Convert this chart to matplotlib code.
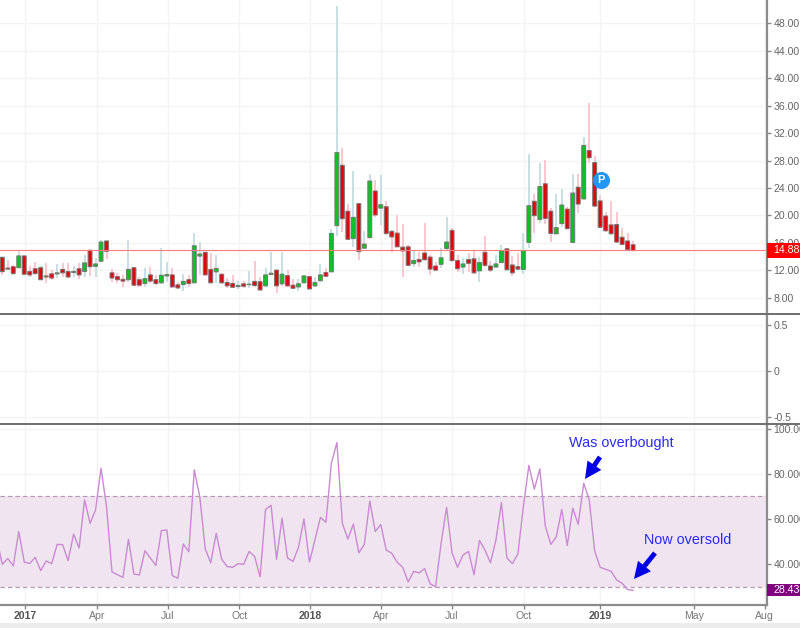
import matplotlib
matplotlib.use('Agg')
import matplotlib.pyplot as plt
import numpy as np
from matplotlib.patches import Rectangle

plt.rcParams['font.family'] = ['Liberation Sans', 'DejaVu Sans']

#Weekly candles
opens = [13.87,12.3,12.5,12.35,14.07,11.8,12.2,12.35,11.15,11.45,
         11.45,12.1,11.8,11.65,12.2,11.8,14.9,12.55,13.3,16.25,
         11.6,11.05,10.65,10.6,12.35,10.6,10.05,11.3,10.6,10.15,
         11.15,11.3,9.85,9.9,10.6,10.15,14.05,14.6,12.1,11.75,
         11.4,10.2,10.05,9.6,10,9.88,10.35,10.3,9.7,11.35,
         12,10,11.2,9.8,9.55,10.15,11.05,9.7,10.45,11.65,
         11.75,18.5,27.3,20.6,16.6,21.7,15.2,16.75,23.55,21.05,
         21.25,17.65,17.4,15.35,15.4,12.95,13.55,14.5,13.9,12.6,
         12.85,15.15,17.8,13.4,12.45,13.55,13.65,11.9,14.6,12.6,
         12.45,13.1,15.1,12.75,12.5,12.1,16.05,22.05,19.4,24.6,
         20.6,17.3,18.8,20.9,16.05,24.1,22.4,29.45,27.7,22.1,
         19.9,18.6,18.65,16.8,16.25,15.7]
closes = [11.78,12.15,11.5,14.07,11.4,11.3,11.5,10.6,11,10.85,
          11.6,11.6,11,11.8,11.3,13.05,12.5,12.9,16.1,14.75,
          10.85,10.6,10.4,12.1,9.8,9.8,10.75,10.4,10.05,11.25,
          11.35,9.55,9.4,10.35,10.05,15.55,14.35,11.3,10.15,12.25,
          10.15,9.7,9.5,9.75,9.65,9.95,9.75,9.1,11.3,11.55,
          9.7,11.4,9.7,9.35,10,11.15,9.25,10.2,11.3,11.1,
          17.35,29.15,19.5,16.5,19.7,14.7,15.8,25,20.05,21.55,
          17.35,16.85,15.4,14.8,12.7,13.4,13.2,13.5,12.15,12,
          13.8,16.1,13.4,12.2,12.9,13,11.6,13.1,12.7,12,
          12.9,14.85,12.05,11.6,12.15,14.85,21.4,19.95,24.2,19.55,
          17.35,18.2,21.5,18.05,23.25,21.65,30.2,28.4,21.35,18.25,
          17.75,17.3,16.1,15.75,15,14.85]
highs = [13.9,13.5,12.6,14.85,14.1,12.6,13.2,12.6,13.1,12,
         12.9,13,13.1,12.6,13.1,14.2,14.95,13.8,16.4,16.4,
         12.1,11.55,11.3,16.4,12.5,11,12.25,12.5,11.3,15.2,
         13.2,12.25,10.3,11.5,11.3,17.4,16.15,14.6,14.45,14.2,
         11.5,10.8,11.3,10.4,10.4,11.9,13.3,10.95,12.25,14.7,
         12,14.7,12,10.65,10.65,11.3,11.15,10.95,12.9,12.25,
         18,50.55,29.85,21.65,26.4,21.7,17.7,26.1,25.15,25.9,
         22.1,17.85,20.05,18.8,15.65,15,14.7,18.9,14.2,13.2,
         15.3,19.8,18.1,14.2,13.7,14.45,14.9,13.85,17,13.4,
         14.2,15.65,15.3,14,14.45,17.35,28.95,23.1,27.6,28.05,
         21,23.1,23.9,21.25,26.1,26.1,31.5,36.35,28.65,22.95,
         20.55,22.1,20.55,18.1,17.35,16.3]
lows = [11.3,12,11.3,12.25,11.3,11,11.3,10.5,10.1,10.5,
        10.8,11,10.8,11,10.7,11,11.15,10.95,13.25,13.6,
        10.3,10.1,9.6,10.3,9.75,9.6,9.5,10.1,9.8,10,
        10.3,9.35,9.2,9,9.6,10.05,11.3,11.3,10.05,10.05,
        10,9.35,9.35,9.2,9.35,9.35,9.6,9.1,9.5,11.3,
        8.7,9.7,9.5,9.2,9,10.05,9.2,9.6,10.3,11.05,
        11.75,17,17.6,16.4,15.4,13.45,15.2,16.65,19.8,18.6,
        17.1,14.7,15.4,11.05,12.6,12.5,12.5,13.45,11.3,11.8,
        12.25,14.95,13.2,11.75,11.5,11.75,11.5,10.3,12.5,11.75,
        12.25,13,12,11.15,12,11.45,15.3,17.35,18.9,18.8,
        16.15,17.25,18.3,17.95,16,20.4,22.3,27.6,21.25,18.1,
        17.6,17.25,16,15.65,14.95,14.8]

#First value sits one week left of the first candle
rsi = [51,39.9,42.5,39.2,54.4,40.9,40.3,43,37.1,41.4,40.2,
       48.7,48.6,41.5,53.3,47.1,68.4,58,64,82.4,65.4,
       36.5,35.3,34.1,51,35.6,35.2,45.9,42.7,39.4,54.8,
       55.1,34.9,33.7,48.9,45.5,81.7,69.9,46.7,40.6,53.6,
       42.1,38.9,38.6,40.2,39.9,45.6,43.4,34.4,64.2,66,
       42.1,60.3,42.7,41.2,47.4,60,40.9,50.7,60.7,58.5,
       84.6,93.8,58,51.1,57.7,45,48.7,67.9,54.4,57.5,
       46.2,44.8,40.8,38.6,32.1,36.8,36.1,38,31.3,30,
       49.2,65.1,45,38.6,44,45.6,35.3,50.5,46.2,40.6,
       50.7,67.2,42.7,40.2,44.5,65.4,83.7,73.2,82.1,56.9,
       48.7,52.1,64.2,48.2,64.7,57.6,75.8,68.4,45.8,38.6,
       37.7,36.8,33,31.5,28.8,28.4]

date_ticks = [4.14,17.26,30.2,43.2,56.1,69.0,82.0,95.1,109.0,126.1,139.0]
date_labels = ['2017','Apr','Jul','Oct','2018','Apr','Jul','Oct','2019','May','Aug']
year_labels = ['2017','2018','2019']
price_ticks = [8,12,16,20,24,28,32,36,40,44,48]
mid_ticks = [-0.5,0,0.5]
mid_labels = ['-0.5','0','0.5']
rsi_ticks = [40,60,80,100]
last_price = 14.88
last_rsi = 28.434
rsi_low = 30
rsi_high = 70
pivot_week = 109.15
pivot_price = 25.15

W, H = 800, 628
RIGHT = 767
LABEL_SIZE = 7.6

def panel(top, bottom):
    return fig.add_axes([0, 1 - bottom / H, RIGHT / W, (bottom - top) / H])

def style(ax, yticks, ylabels):
    ax.set_xlim(-2.3 / 5.485, (RIGHT - 2.3) / 5.485)
    ax.set_xticks(date_ticks)
    ax.set_yticks(yticks)
    ax.set_yticklabels(ylabels)
    ax.yaxis.tick_right()
    ax.set_axisbelow(True)
    ax.grid(True, color='#f4f4f4', lw=1)
    ax.tick_params(axis='y', length=3, width=1, color='#888888', labelcolor='#666666',
                   labelsize=LABEL_SIZE, pad=1.5)
    ax.tick_params(axis='x', bottom=False, labelbottom=False)
    for s in ['top', 'left', 'bottom']:
        ax.spines[s].set_visible(False)
    ax.spines['right'].set_color('#8c8c8c')
    ax.spines['right'].set_linewidth(1.6)

fig = plt.figure(figsize=(W / 100, H / 100), dpi=100)
fig.patch.set_facecolor('white')

#Price panel
ax1 = panel(0, 313)
ax1.set_ylim(5.74, 51.43)
style(ax1, price_ticks, ['%.2f' % t for t in price_ticks])
weeks = np.arange(len(opens))
opens_a = np.array(opens)
closes_a = np.array(closes)
up = closes_a >= opens_a
ax1.vlines(weeks[up], np.array(lows)[up], np.array(highs)[up], color='#c8dfe3', lw=1.4, zorder=3)
ax1.vlines(weeks[~up], np.array(lows)[~up], np.array(highs)[~up], color='#f9c8ce', lw=1.4, zorder=3)
up_bars = ax1.bar(weeks[up], (closes_a - opens_a)[up], bottom=opens_a[up], width=0.7,
                  color='#05c61c', edgecolor='#6f7f6f', lw=0.8, zorder=4)
down_bars = ax1.bar(weeks[~up], (closes_a - opens_a)[~up], bottom=opens_a[~up], width=0.7,
                    color='#e80008', edgecolor='#7f6f6f', lw=0.8, zorder=4)
#Even body widths, no pixel snapping
for b in list(up_bars) + list(down_bars):
    b.set_snap(False)
ax1.axhline(last_price, color='#ff7b7b', lw=0.8, zorder=5)
ax1.scatter([pivot_week], [pivot_price], s=150, color='#2196f3', zorder=6, lw=0)
ax1.text(pivot_week, pivot_price, 'P', color='white', fontsize=8, fontweight='bold',
         ha='center', va='center', zorder=7)
ax1.add_patch(Rectangle((1, last_price - 1.05), 33 / RIGHT, 2.1, transform=ax1.get_yaxis_transform(),
                        color='#ff0000', clip_on=False, zorder=10, lw=0))
ax1.text(1 + 6 / RIGHT, last_price, '%.2f' % last_price, transform=ax1.get_yaxis_transform(),
         color='white', fontsize=LABEL_SIZE, va='center', clip_on=False, zorder=11)

#Empty middle panel
ax2 = panel(314, 423)
ax2.set_ylim(-0.565, 0.62)
style(ax2, mid_ticks, mid_labels)

#RSI panel
ax3 = panel(424, 605)
ax3.set_ylim(21.9, 102)
style(ax3, rsi_ticks, ['%.3f' % t for t in rsi_ticks])
ax3.axhspan(rsi_low, rsi_high, color='#f0e4f0', lw=0, zorder=1)
for level in [rsi_low, rsi_high]:
    ax3.axhline(level, color='#b59ab5', lw=0.9, ls=(0, (3.5, 2.5)), zorder=2)
ax3.plot(np.arange(-1, len(rsi) - 1), rsi, color='#c98ad2', lw=1.0, zorder=3)
ax3.spines['bottom'].set_visible(True)
ax3.spines['bottom'].set_color('#8c8c8c')
ax3.spines['bottom'].set_linewidth(1.6)
ax3.tick_params(axis='x', bottom=True, labelbottom=True, length=3, width=1, color='#888888',
                labelcolor='#777777', labelsize=LABEL_SIZE, pad=1)
ax3.set_xticklabels(date_labels)
for lab in ax3.get_xticklabels():
    if lab.get_text() in year_labels:
        lab.set_fontweight('bold')
        lab.set_color('#555555')
ax3.add_patch(Rectangle((1, last_rsi - 2.7), 33 / RIGHT, 5.4, transform=ax3.get_yaxis_transform(),
                        color='#800080', clip_on=False, zorder=10, lw=0))
ax3.text(1 + 6 / RIGHT, last_rsi, '%.3f' % last_rsi, transform=ax3.get_yaxis_transform(),
         color='white', fontsize=LABEL_SIZE, va='center', clip_on=False, zorder=11)

#Hand drawn notes
blue_text = '#2a2aff'
fig.text(569 / W, 1 - 443 / H, 'Was overbought', color=blue_text, fontsize=10.4, va='center')
fig.text(644 / W, 1 - 540 / H, 'Now oversold', color=blue_text, fontsize=10.4, va='center')
arrow = dict(width=3.5, headwidth=12, headlength=12, color='#0000e6', lw=0)
ax3.annotate('', xy=(585 / W, 1 - 479 / H), xytext=(600 / W, 1 - 457 / H),
             xycoords='figure fraction', textcoords='figure fraction', arrowprops=arrow)
ax3.annotate('', xy=(634 / W, 1 - 579 / H), xytext=(655 / W, 1 - 553 / H),
             xycoords='figure fraction', textcoords='figure fraction', arrowprops=arrow)

#Panel dividers and the bottom strip
for y in [313.5, 423.5]:
    fig.add_artist(plt.Line2D([0, 1], [1 - y / H, 1 - y / H], color='#6e6e6e', lw=1.4))
fig.add_artist(Rectangle((0, 0), 1, 5 / H, transform=fig.transFigure, color='#ececec', lw=0))

fig.savefig('out.png', dpi=100)
